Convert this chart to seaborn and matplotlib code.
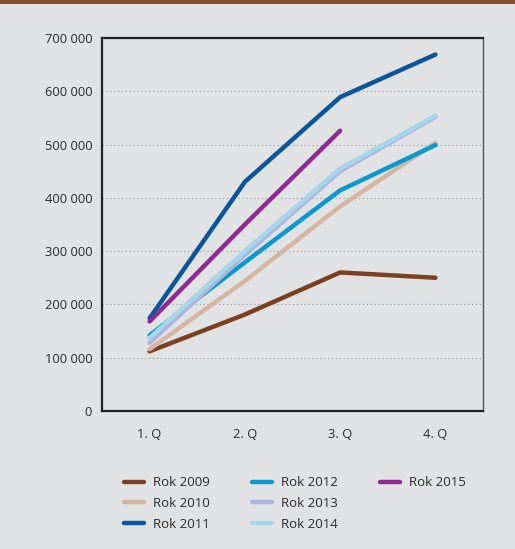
import matplotlib
matplotlib.use("Agg")
import matplotlib.pyplot as plt
from matplotlib.patches import Rectangle
from matplotlib.lines import Line2D
from matplotlib.ticker import FuncFormatter, FixedLocator
import seaborn as sns
import pandas as pd

quarters = ["1. Q", "2. Q", "3. Q", "4. Q"]
rok_2009 = [112000, 181000, 260000, 250000]
rok_2010 = [116000, 244000, 384000, 503000]
rok_2011 = [174000, 430000, 589000, 669000]
rok_2012 = [142000, 279000, 414000, 499000]
rok_2013 = [128000, 293000, 450000, 552000]
rok_2014 = [137000, 300000, 455000, 554000]
rok_2015 = [168000, 350000, 526000]

series = {
    "Rok 2009": rok_2009,
    "Rok 2010": rok_2010,
    "Rok 2011": rok_2011,
    "Rok 2012": rok_2012,
    "Rok 2013": rok_2013,
    "Rok 2014": rok_2014,
    "Rok 2015": rok_2015,
}
colors = {
    "Rok 2009": "#7b3f24",
    "Rok 2010": "#d4b6a4",
    "Rok 2011": "#0b559c",
    "Rok 2012": "#0a98cf",
    "Rok 2013": "#aeb5dd",
    "Rok 2014": "#a6d6ea",
    "Rok 2015": "#8f2a92",
}

rows = []
for name, vals in series.items():
    for i, v in enumerate(vals):
        rows.append({"Rok": name, "pos": i, "value": v})
df = pd.DataFrame(rows)

sns.set_theme(style="white")
plt.rcParams["font.family"] = ["Open Sans", "DejaVu Sans"]

bg = "#e1e2e4"
fig = plt.figure(figsize=(5.15, 5.49), dpi=100, facecolor=bg)
ax = fig.add_axes([0.198, 0.2514, 0.740, 0.6794])
ax.set_facecolor(bg)

# brown band across the top edge
fig.patches.append(Rectangle((0, 1 - 4 / 549), 1, 4 / 549, transform=fig.transFigure,
                             facecolor="#8b4a2b", edgecolor="none", zorder=5))

sns.lineplot(data=df, x="pos", y="value", hue="Rok", palette=colors,
             linewidth=3.2, ax=ax, legend=True, sort=False)

ax.set_xlim(-0.5, 3.5)
ax.set_ylim(0, 700000)

ax.yaxis.set_major_locator(FixedLocator(range(0, 700001, 100000)))
ax.yaxis.set_major_formatter(FuncFormatter(lambda v, p: f"{int(v):,}".replace(",", " ")))
ax.set_xticks(range(4))
ax.set_xticklabels(quarters)
ax.set_xticks([-0.5, 0.5, 1.5, 2.5, 3.5], minor=True)
ax.tick_params(axis="x", which="major", length=0, pad=12, labelsize=9.3, labelcolor="#2a2a2a")
ax.tick_params(axis="x", which="minor", length=5, width=1.1, color="#222222", direction="out")
ax.tick_params(axis="y", which="major", length=5, width=1.1, color="#555555", direction="out",
               pad=2, labelsize=9.3, labelcolor="#2a2a2a")
ax.set_xlabel("")
ax.set_ylabel("")

for y in range(100000, 700000, 100000):
    ax.axhline(y, color="#9a9a9a", linestyle=(0, (1, 2.5)), linewidth=0.8, zorder=0)

for side in ["left", "bottom", "top"]:
    ax.spines[side].set_color("#222222")
    ax.spines[side].set_linewidth(1.6)
ax.spines["right"].set_color("#555555")
ax.spines["right"].set_linewidth(1.0)

# legend: three columns of three, the last column holding only 2015
handles, labels = ax.get_legend_handles_labels()
blank = Line2D([], [], linestyle="none")
handles = handles + [blank, blank]
labels = labels + ["", ""]
ax.legend(handles, labels, ncol=3, loc="upper left", bbox_to_anchor=(0.026, -0.143),
          frameon=False, fontsize=9.5, handlelength=1.5, handletextpad=0.7,
          columnspacing=3.2, labelspacing=0.6, labelcolor="#2a2a2a")

fig.savefig("out.png", dpi=100, facecolor=bg)
